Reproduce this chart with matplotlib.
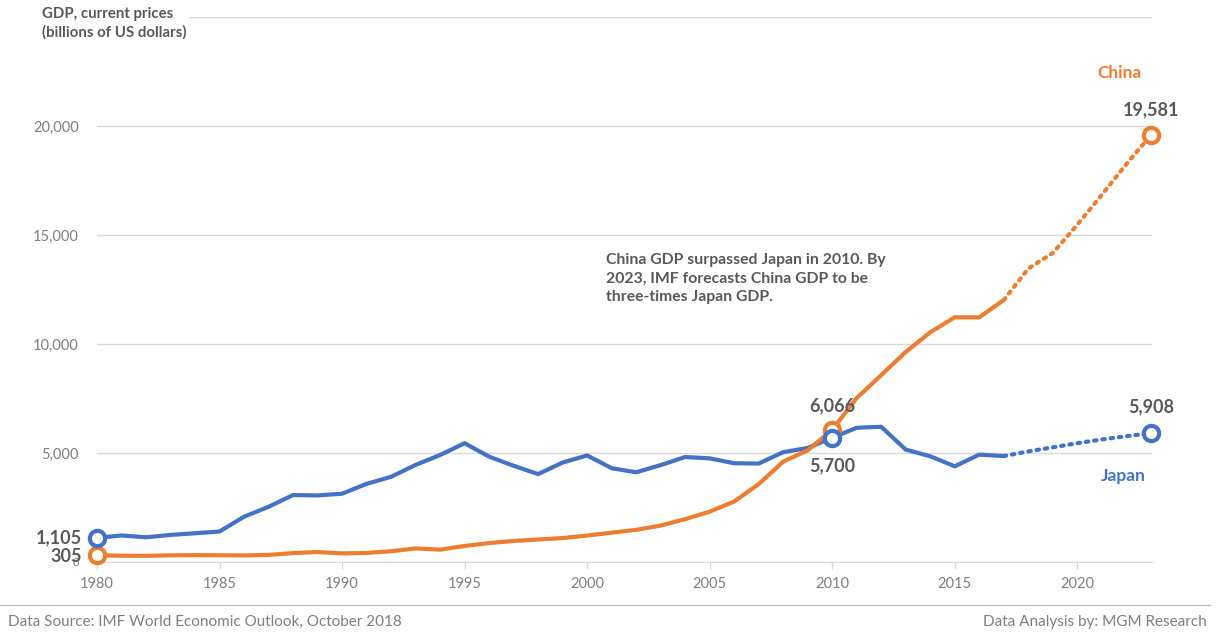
import matplotlib
matplotlib.use("Agg")
import matplotlib.pyplot as plt
from matplotlib.lines import Line2D

plt.rcParams['font.family'] = ['Lato', 'DejaVu Sans']

# GDP, current prices (billions of US dollars)
years = list(range(1980, 2018))
japan = [1105, 1218, 1134, 1243, 1318, 1398, 2078, 2532, 3071, 3054,
         3133, 3584, 3908, 4454, 4907, 5449, 4833, 4414, 4032, 4562,
         4888, 4304, 4115, 4445, 4815, 4755, 4530, 4515, 5038, 5231,
         5700, 6157, 6203, 5156, 4850, 4389, 4926, 4860]
china = [305, 288, 282, 305, 314, 310, 301, 327, 408, 457,
         394, 415, 495, 623, 567, 737, 867, 965, 1032, 1097,
         1214, 1344, 1477, 1671, 1966, 2309, 2774, 3572, 4604, 5122,
         6066, 7522, 8570, 9635, 10535, 11226, 11222, 12015]

# IMF forecast years (drawn dotted, starting from the last actual year)
fc_years = [2017, 2018, 2019, 2020, 2021, 2022, 2023]
japan_fc = [4860, 5071, 5260, 5450, 5620, 5770, 5908]
china_fc = [12015, 13457, 14172, 15469, 16841, 18246, 19581]

y_ticks = [0, 5000, 10000, 15000, 20000, 25000]
y_tick_labels = ["0", "5,000", "10,000", "15,000", "20,000", ""]
x_ticks = [1980, 1985, 1990, 1995, 2000, 2005, 2010, 2015, 2020]

BLUE = "#4472C4"
ORANGE = "#ED7D31"
GREY = "#595959"
LIGHT = "#D9D9D9"

fig = plt.figure(figsize=(12.22, 6.34), dpi=100)
ax = fig.add_axes([97 / 1222, 1 - 562 / 634, (1152 - 97) / 1222, (562 - 17) / 634])

ax.plot(years, japan, color=BLUE, lw=3, solid_capstyle="round", zorder=3)
ax.plot(years, china, color=ORANGE, lw=3, solid_capstyle="round", zorder=3)
ax.plot(fc_years, japan_fc, color=BLUE, lw=3, ls=(0, (0.6, 1.4)),
        dash_capstyle="round", zorder=3)
ax.plot(fc_years, china_fc, color=ORANGE, lw=3, ls=(0, (0.6, 1.4)),
        dash_capstyle="round", zorder=3)

# open circle markers at selected points
mk = dict(marker="o", ms=11, mfc="white", mew=3, ls="none", zorder=5, clip_on=False)
ax.plot([years[0], years[30]], [china[0], china[30]], mec=ORANGE, **mk)
ax.plot([fc_years[-1]], [china_fc[-1]], mec=ORANGE, **mk)
ax.plot([years[0], years[30]], [japan[0], japan[30]], mec=BLUE, **mk)
ax.plot([fc_years[-1]], [japan_fc[-1]], mec=BLUE, **mk)

ax.set_xlim(1980, 2023.05)
ax.set_ylim(0, 25000)
ax.set_yticks(y_ticks)
ax.set_yticklabels(y_tick_labels)
ax.set_xticks(x_ticks)
ax.set_xticklabels([str(x) for x in x_ticks])
ax.tick_params(axis="y", length=0, pad=13, labelsize=10.5, labelcolor="#7F7F7F")
ax.tick_params(axis="x", length=5, width=1, color=LIGHT, pad=6,
               labelsize=10.5, labelcolor="#7F7F7F")
ax.get_yticklabels()[0].set_fontsize(8)
ax.grid(axis="y", color=LIGHT, lw=1)
ax.set_axisbelow(True)
for side in ("top", "right", "left"):
    ax.spines[side].set_visible(False)
ax.spines["bottom"].set_color(LIGHT)

lab = dict(color=GREY, fontsize=13, fontweight="bold")
ax.annotate(f"{japan[0]:,}", (years[0], japan[0]), xytext=(-11, 0),
            textcoords="offset points", ha="right", va="center", **lab)
ax.annotate(f"{china[0]:,}", (years[0], china[0]), xytext=(-11, -1),
            textcoords="offset points", ha="right", va="center", **lab)
ax.annotate(f"{china[30]:,}", (years[30], china[30]), xytext=(0, 17),
            textcoords="offset points", ha="center", va="center", **lab)
ax.annotate(f"{japan[30]:,}", (years[30], japan[30]), xytext=(0, -20),
            textcoords="offset points", ha="center", va="center", **lab)
ax.annotate(f"{china_fc[-1]:,}", (fc_years[-1], china_fc[-1]), xytext=(0, 18),
            textcoords="offset points", ha="center", va="center", **lab)
ax.annotate(f"{japan_fc[-1]:,}", (fc_years[-1], japan_fc[-1]), xytext=(0, 19),
            textcoords="offset points", ha="center", va="center", **lab)

fig.text(1120 / 1222, 1 - 73 / 634, "China", color=ORANGE, fontsize=12.5,
         fontweight="bold", ha="center", va="center")
fig.text(1123 / 1222, 1 - 476 / 634, "Japan", color=BLUE, fontsize=12.5,
         fontweight="bold", ha="center", va="center")

fig.text(606 / 1222, 1 - 253 / 634,
         "China GDP surpassed Japan in 2010. By\n"
         "2023, IMF forecasts China GDP to be\n"
         "three-times Japan GDP.",
         color=GREY, fontsize=11.3, fontweight="bold", ha="left", va="top",
         linespacing=1.42)

fig.text(42 / 1222, 1 - 7 / 634,
         "GDP, current prices\n(billions of US dollars)",
         color=GREY, fontsize=10.8, fontweight="bold", ha="left", va="top",
         linespacing=1.35,
         bbox=dict(facecolor="white", edgecolor="none", pad=2))

fig.add_artist(Line2D([0, 1210 / 1222], [1 - 605 / 634] * 2, color="#BFBFBF", lw=1))
fig.text(8 / 1222, 1 - 622 / 634, "Data Source: IMF World Economic Outlook, October 2018",
         color="#7F7F7F", fontsize=11, ha="left", va="center")
fig.text(1207 / 1222, 1 - 622 / 634, "Data Analysis by: MGM Research",
         color="#7F7F7F", fontsize=11, ha="right", va="center")

fig.savefig("out.png", dpi=100, facecolor="white")
